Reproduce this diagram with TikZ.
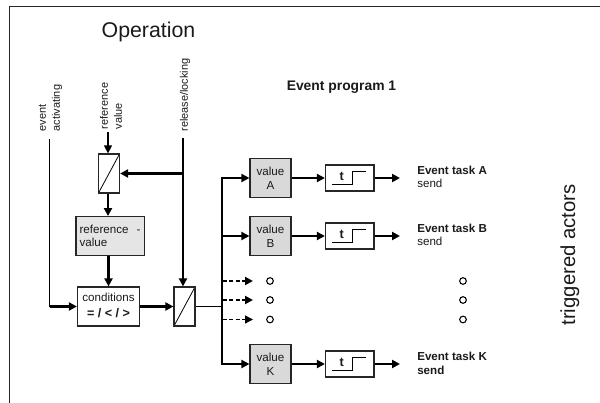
\documentclass[tikz,border=0pt]{standalone}
\usepackage{fontspec}
\setmainfont{Liberation Sans}
\usetikzlibrary{arrows.meta,calc}
\definecolor{txt}{HTML}{1A1A1A}
\tikzset{
  x=0.75pt,y=-0.75pt,
  every node/.style={text=txt,font=\fontsize{8.7}{9.9}\selectfont},
  boxn/.style={draw=black!85,line width=0.9pt,minimum width=#1*0.75pt,inner sep=0pt,align=center},
  conv/.style={boxn=21,minimum height=29.25pt,path picture={\draw[black,line width=0.6pt] (path picture bounding box.south west)--(path picture bounding box.north east);}},
  valbox/.style={boxn=41,minimum height=29pt,fill=black!15},
  tbox/.style={boxn=48.5,minimum height=19.5pt,fill=white},
  thin link/.style={line width=0.8pt,black},
  thick link/.style={line width=1.8pt,black},
  arr/.style={-{Triangle[length=6pt,width=6pt]}},
  dash link/.style={dash pattern=on 3.5pt off 1.6pt,arr,black},
  dotc/.style={circle,draw=black,line width=0.8pt,minimum size=5pt,inner sep=0pt},
  tasklabel/.style={anchor=west,align=left,inner sep=0pt}
}
\newcommand{\stepglyph}[1]{\draw[black,line width=0.8pt] ($(#1.center)+(-17.5,6.5)$) -- ++(20,0) -- ++(0,-13) -- ++(14,0);
  \node[font=\fontsize{9.5}{10}\selectfont\bfseries] at ($(#1.center)+(-8,-2)$) {t};}
\begin{document}
\begin{tikzpicture}
\useasboundingbox (0,0) rectangle (600,403);
\draw[black!85,line width=0.9pt] (9.5,403) -- (9.5,6.5) -- (600,6.5);
\node (title) [anchor=center,font=\fontsize{16}{18}\selectfont] at (148.5,32) {Operation};
\node (prog) [font=\fontsize{10.4}{11}\selectfont\bfseries] at (341.5,87.5) {Event program 1};
\node (actors) [rotate=90,font=\fontsize{15.2}{18}\selectfont] at (570,255) {triggered actors};
% left column
\node (rc) [conv] at (109,173.5) {};
\node (rv) [boxn=68.5,minimum height=29pt,fill=black!10,align=left,text width=46pt] at (110.25,236) {\mbox{reference\hspace{0.7em}-}\\value};
\node (cond) [boxn=62,minimum height=29.25pt,fill=white] at (108.5,306.5) {\raisebox{2pt}{conditions}\\[2pt]\raisebox{2pt}{\fontsize{9.4}{10}\selectfont\bfseries = / < / >}};
\node (oc) [conv] at (184.5,306.5) {};
% labels of the inputs
\coordinate (ea) at (49.5,139);
\coordinate (rvt) at (108,132);
\coordinate (rl) at (183,138);
\node (la) [rotate=90,align=left,font=\fontsize{8.2}{10.5}\selectfont] at (50.5,108) {event\\activating};
\node (lb) [rotate=90,align=left,font=\fontsize{8.2}{10.5}\selectfont] at (111,106) {reference\\value};
\node (lc) [rotate=90,font=\fontsize{8.2}{10}\selectfont] at (185,95) {release/locking};
\draw[thin link,arr] (rvt) -- (rvt |- rc.north);
\draw[thick link,arr] (rl) -- (rl |- oc.north);
\draw[thin link] (ea) -- (49.5,306.5);
\draw[thick link,arr] (49.5,306.5) -- (cond.west);
\coordinate (j) at (183,173.5);
\draw[thick link,arr] (j) -- (rc.east);
\draw[thick link,arr] (rc.south -| 108,0) -- (rv.north -| 108,0);
\draw[thick link,arr] (rv.south -| 108.5,0) -- (cond.north -| 108.5,0);
\draw[thick link,arr] (cond.east) -- (oc.west);
% bus
\coordinate (ba) at (222,178);
\coordinate (bb) at (222,236);
\coordinate (bd1) at (222,281);
\coordinate (bd2) at (222,300);
\coordinate (bd3) at (222,319.5);
\coordinate (bk) at (222,364);
\draw[thin link] (oc.east) -- (222,306.5);
\draw[line width=1.2pt,black,line cap=rect] (ba) -- (bk);
% rows
\foreach \n/\l/\y/\w in {a/A/178/1.4pt,b/B/236/1.9pt,k/K/364/1.7pt}{
  \node (v\n) [valbox] at (270.5,\y) {value\\[0.5pt]\l};
  \node (t\n) [tbox] at (349.75,\y) {};
  \stepglyph{t\n}
  \coordinate (o\n) at (400,\y);
  \draw[line width=\w,black,arr] (222,\y) -- (v\n.west);
  \draw[thick link,arr] (v\n.east) -- (t\n.west);
  \draw[thick link,arr] (t\n.east) -- (o\n);
}
\node (ta) [tasklabel] at (417,177) {\textbf{Event task A}\\send};
\node (tb) [tasklabel] at (417,235) {\textbf{Event task B}\\send};
\node (tk) [tasklabel] at (417,363) {\textbf{Event task K}\\[0.7pt]\textbf{send}};
% dashed branches
\node (c1) [dotc] at (270,281) {};
\node (c2) [dotc] at (270,300) {};
\node (c3) [dotc] at (270,319.5) {};
\node (d1) [dotc] at (463,281) {};
\node (d2) [dotc] at (463,300) {};
\node (d3) [dotc] at (463,319.5) {};
\coordinate (e1) at (253,281);
\coordinate (e2) at (253,300);
\coordinate (e3) at (253,319.5);
\draw[dash link,line width=1.6pt] (bd1) -- (e1);
\draw[dash link,line width=1.6pt] (bd2) -- (e2);
\draw[dash link,line width=1pt] (bd3) -- (e3);
\end{tikzpicture}
\end{document}
